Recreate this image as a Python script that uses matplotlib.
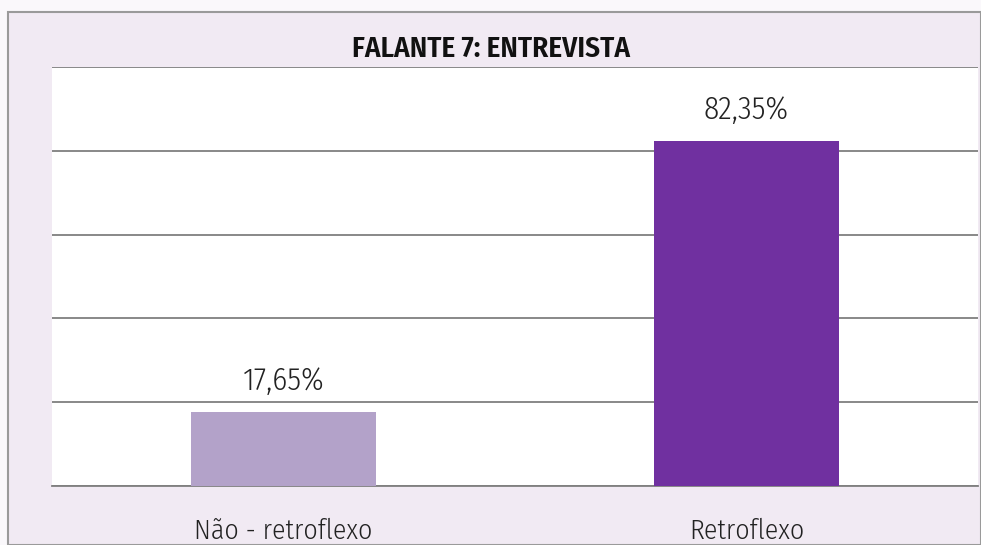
import matplotlib
matplotlib.use("Agg")
import matplotlib.pyplot as plt
from matplotlib.patches import Rectangle

categories = ["Não - retroflexo", "Retroflexo"]
values = [17.65, 82.35]
labels = ["17,65%", "82,35%"]
colors = ["#b3a2c9", "#7030a0"]
title = "FALANTE 7: ENTREVISTA"

plt.rcParams['font.family'] = ['Fira Sans Condensed', 'DejaVu Sans']

W, H = 981, 545
fig = plt.figure(figsize=(W / 100, H / 100), dpi=100)
fig.patch.set_facecolor("#faf8fb")

# outer frame
fig.patches.append(Rectangle((8 / W, 0), 1 - 8 / W, 1 - 12 / H, transform=fig.transFigure,
                             facecolor="#f1eaf3", edgecolor="#9a9a9a", linewidth=1.5, zorder=-5))

ax = fig.add_axes([52 / W, 59 / H, 926 / W, (486 - 67) / H])
ax.set_zorder(2)
ax.set_facecolor("white")
x = list(range(len(categories)))
bars = ax.bar(x, values, width=0.4, color=colors, zorder=3)
ax.set_xlim(-0.5, 1.5)
ax.set_ylim(0, 100)
ax.set_yticks([0, 20, 40, 60, 80, 100])
ax.yaxis.grid(True, color="#7f7f7f", linewidth=1.3, zorder=0)
ax.set_yticklabels([])
ax.tick_params(axis="y", length=0)
ax.tick_params(axis="x", length=0, pad=23, labelsize=20, labelcolor="#222222")
ax.set_xticks(x)
ax.set_xticklabels(categories, fontweight=300)
for s in ["top", "left", "right"]:
    ax.spines[s].set_visible(False)
ax.spines["bottom"].set_color("#7f7f7f")
ax.spines["bottom"].set_linewidth(1.3)

for b, lab in zip(bars, labels):
    ax.annotate(lab, (b.get_x() + b.get_width() / 2, b.get_height()),
                xytext=(0, 16), textcoords="offset points", ha="center", va="baseline",
                fontsize=22.5, fontweight=300, color="#222222")

fig.text(491 / W, 1 - 49 / H, title, ha="center", va="center", fontsize=21,
         fontweight=600, color="#111111")

fig.savefig("out.png", dpi=100, facecolor=fig.get_facecolor())
